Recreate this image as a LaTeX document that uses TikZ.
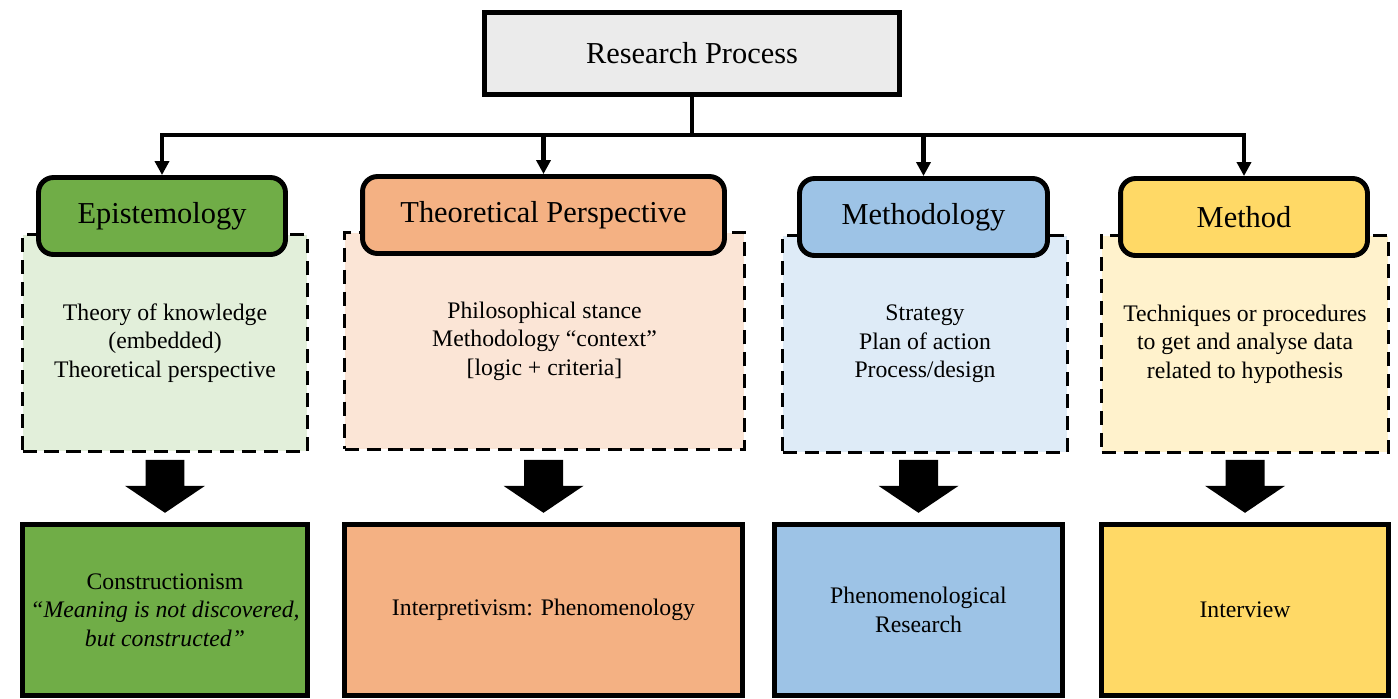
\documentclass[tikz,border=0pt]{standalone}
\usepackage{fontspec}
\setmainfont{Liberation Serif}
\usepackage{xcolor}
\usepackage{tikz}
\usetikzlibrary{arrows.meta, positioning, calc}
\definecolor{topgray}{HTML}{EBEBEB}
\definecolor{epigreen}{HTML}{70AD47}
\definecolor{epilight}{HTML}{E2EFDA}
\definecolor{theoorange}{HTML}{F4B183}
\definecolor{theolight}{HTML}{FBE5D6}
\definecolor{methblue}{HTML}{9DC3E6}
\definecolor{methlight}{HTML}{DEEBF7}
\definecolor{mthdyellow}{HTML}{FFD966}
\definecolor{mthdlight}{HTML}{FFF2CC}

\begin{document}
\begin{tikzpicture}[x=0.02cm, y=-0.02cm, >={Triangle[width=8pt,length=8pt]},
  every node/.style={font=\fontsize{13.5}{16.2}\selectfont, align=center, inner sep=0pt},
  headbox/.style={draw, line width=2.8pt, rounded corners=0.3cm, minimum height=1.54cm,
    font=\fontsize{17.3}{20}\selectfont},
  notebox/.style={draw, line width=1.9pt, dash pattern=on 8pt off 4.5pt, minimum height=4.34cm},
  lowbox/.style={draw, line width=2.8pt, minimum height=3.41cm},
  conn/.style={line width=2.5pt}]
  \useasboundingbox (0,0) rectangle (1398,698);
  % Top box
  \node[draw, line width=2.8pt, fill=topgray, minimum width=8.3cm, minimum height=1.64cm,
    font=\fontsize{17.3}{20}\selectfont] (top) at (692,53.5) {Research Process};
  % Dashed description boxes
  \node[notebox, fill=epilight, minimum width=5.7cm] (noteepi) at (165,343)
    {Theory of knowledge\\(embedded)\\Theoretical perspective};
  \node[notebox, fill=theolight, minimum width=8.0cm] (notetheo) at (544.5,341)
    {Philosophical stance\\Methodology “context”\\{[}logic + criteria{]}};
  \node[notebox, fill=methlight, minimum width=5.7cm] (notemeth) at (925,344)
    {Strategy\\Plan of action\\Process/design};
  \node[notebox, fill=mthdlight, minimum width=5.74cm] (notemthd) at (1245,344)
    {Techniques or procedures\\to get and analyse data\\related to hypothesis};
  % Header boxes
  \node[headbox, fill=epigreen, minimum width=4.94cm] (epi) at (162,216) {Epistemology};
  \node[headbox, fill=theoorange, minimum width=7.24cm] (theo) at (543.5,215) {Theoretical Perspective};
  \node[headbox, fill=methblue, minimum width=4.96cm] (meth) at (923.5,217) {Methodology};
  \node[headbox, fill=mthdyellow, minimum width=4.94cm] (mthd) at (1244,217) {Method};
  % Bottom boxes
  \node[lowbox, fill=epigreen, minimum width=5.7cm] (lowepi) at (165,610)
    {Constructionism\\\textit{“Meaning is not discovered,}\\\textit{but constructed”}};
  \node[lowbox, fill=theoorange, minimum width=7.96cm] (lowtheo) at (543.5,610)
    {Interpretivism: Phenomenology};
  \node[lowbox, fill=methblue, minimum width=5.76cm] (lowmeth) at (918.5,610)
    {Phenomenological\\Research};
  \node[lowbox, fill=mthdyellow, minimum width=5.74cm] (lowmthd) at (1245,610)
    {Interview};
  % Tree connectors
  \coordinate (bus) at (692,135);
  \draw[conn] (top) -- (bus);
  \foreach \n in {epi,theo,meth,mthd}
    \draw[conn,->] (bus) -| (\n.north);
  % Block arrows
  \foreach \n in {epi,theo,meth,mthd}
    \fill ([yshift=0.19cm]low\n.north) -- ++(0.8cm,0.54cm) -- ++(-0.41cm,0) -- ++(0,0.52cm)
      -- ++(-0.78cm,0) -- ++(0,-0.52cm) -- ++(-0.41cm,0) -- cycle;
\end{tikzpicture}
\end{document}
